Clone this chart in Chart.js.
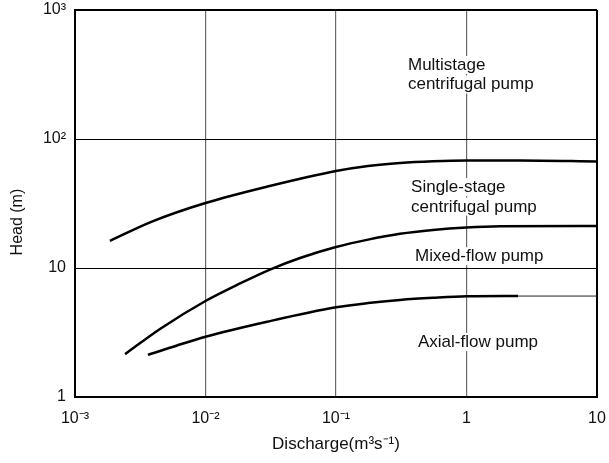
<!DOCTYPE html>
<html>
<head>
<meta charset="utf-8">
<script src="https://cdn.jsdelivr.net/npm/chart.js@4.4.1/dist/chart.umd.min.js"></script>
<style>
  html, body { margin: 0; padding: 0; background: #fff; }
  #wrap { width: 609px; height: 463px; position: relative; }
</style>
</head>
<body>
<div id="wrap"><canvas id="c" width="609" height="463"></canvas></div>
<script>
// ---- data ----
const xTickValues = [0.001, 0.01, 0.1, 1, 10];
const xTickLabels = ['10\u207B\u00B3', '10\u207B\u00B2', '10\u207B\u00B9', '1', '10'];
const yTickValues = [1, 10, 100, 1000];
const yTickLabels = ['1', '10', '10\u00B2', '10\u00B3'];

// boundary: multistage / single-stage centrifugal
const upperX = [0.00185, 0.0038, 0.01, 0.031, 0.1, 0.176, 0.309, 0.553, 1, 2.57, 10];
const upperY = [16.2, 22.7, 31.9, 43.2, 56.5, 61.8, 65.2, 67.2, 68.1, 68.1, 66.9];
// boundary: single-stage / mixed-flow
const middleX = [0.00242, 0.00448, 0.01, 0.0184, 0.0312, 0.053, 0.1, 0.176, 0.309, 0.553, 1, 1.81, 10];
const middleY = [2.15, 3.37, 5.55, 7.59, 9.73, 11.96, 14.55, 16.6, 18.4, 19.7, 20.6, 21.06, 21.2];
// boundary: mixed-flow / axial-flow
const lowerX = [0.00362, 0.00605, 0.01, 0.0296, 0.1, 0.176, 0.309, 0.553, 1, 2.48];
const lowerY = [2.12, 2.51, 2.93, 3.83, 4.96, 5.35, 5.65, 5.87, 6.03, 6.06];
// thin divider line on the right
const dividerX = [1, 10];
const dividerY = [6.06, 6.06];

// region labels (anchor = first line baseline, data coordinates)
const regionLabels = [
  { lines: ['Multistage', 'centrifugal pump'], x: 0.356, y: 343 },
  { lines: ['Single-stage', 'centrifugal pump'], x: 0.376, y: 38.8 },
  { lines: ['Mixed-flow pump'], x: 0.403, y: 11.3 },
  { lines: ['Axial-flow pump'], x: 0.425, y: 2.44 }
];

const FONT = '"Liberation Sans", Arial, Helvetica, sans-serif';
const pts = (xs, ys) => xs.map((x, i) => ({ x: x, y: ys[i] }));
const isLogEq = (a, b) => Math.abs(Math.log10(a) - Math.log10(b)) < 1e-6;

const labelPlugin = {
  id: 'regionLabels',
  afterDatasetsDraw(chart) {
    const ctx = chart.ctx;
    const xs = chart.scales.x, ys = chart.scales.y;
    ctx.save();
    ctx.font = '17px ' + FONT;
    ctx.textAlign = 'left';
    ctx.textBaseline = 'alphabetic';
    regionLabels.forEach(lab => {
      const px = xs.getPixelForValue(lab.x);
      const py = ys.getPixelForValue(lab.y);
      lab.lines.forEach((t, i) => {
        const w = ctx.measureText(t).width;
        const by = py + i * 19.5;
        ctx.fillStyle = '#fff';
        ctx.fillRect(px - 2, by - 14, w + 4, 18);
      });
      lab.lines.forEach((t, i) => {
        ctx.fillStyle = '#111';
        ctx.fillText(t, px, py + i * 19.5);
      });
    });
    ctx.restore();
  },
  afterDraw(chart) {
    const ctx = chart.ctx;
    const a = chart.chartArea;
    ctx.save();
    ctx.font = '16px ' + FONT;
    ctx.fillStyle = '#111';
    ctx.textAlign = 'center';
    ctx.textBaseline = 'middle';
    ctx.translate(18, a.top + (a.bottom - a.top) * 0.548);
    ctx.rotate(-Math.PI / 2);
    ctx.fillText('Head (m)', 0, 0);
    ctx.restore();
  }
};

const lineStyle = {
  borderColor: '#000',
  borderWidth: 2.5,
  pointRadius: 0,
  fill: false,
  cubicInterpolationMode: 'monotone'
};

new Chart(document.getElementById('c'), {
  type: 'line',
  data: {
    datasets: [
      Object.assign({ label: 'Multistage / single-stage', data: pts(upperX, upperY) }, lineStyle),
      Object.assign({ label: 'Single-stage / mixed-flow', data: pts(middleX, middleY) }, lineStyle),
      Object.assign({ label: 'Mixed-flow / axial-flow', data: pts(lowerX, lowerY) }, lineStyle),
      { label: 'divider', data: pts(dividerX, dividerY), borderColor: '#222', borderWidth: 1, pointRadius: 0, fill: false }
    ]
  },
  options: {
    responsive: false,
    animation: false,
    layout: { padding: { top: 10, right: 12, left: 0, bottom: 0 } },
    plugins: { legend: { display: false }, tooltip: { enabled: false } },
    scales: {
      x: {
        type: 'logarithmic',
        min: 0.001, max: 10,
        afterBuildTicks: s => { s.ticks = xTickValues.map(v => ({ value: v })); },
        afterFit: s => { s.height = 66; s.paddingLeft = 0; s.paddingRight = 0; },
        ticks: {
          autoSkip: false, maxRotation: 0, padding: 12,
          color: '#111', font: { family: FONT, size: 16 },
          callback: v => { const i = xTickValues.findIndex(t => isLogEq(t, v)); return i >= 0 ? xTickLabels[i] : ''; }
        },
        grid: {
          drawTicks: false,
          color: c => (c.tick && (isLogEq(c.tick.value, 0.001) || isLogEq(c.tick.value, 10))) ? '#000' : '#6a6a6a',
          lineWidth: c => (c.tick && (isLogEq(c.tick.value, 0.001) || isLogEq(c.tick.value, 10))) ? 2 : 1.2
        },
        border: { display: true, color: '#000', width: 2 },
        title: { display: true, text: 'Discharge(m\u00B3s\u207B\u00B9)', color: '#111', font: { family: FONT, size: 17 }, padding: { top: 0, bottom: 8 } }
      },
      y: {
        type: 'logarithmic',
        min: 1, max: 1000,
        afterBuildTicks: s => { s.ticks = yTickValues.map(v => ({ value: v })); },
        afterFit: s => { s.width = 75; s.paddingTop = 0; s.paddingBottom = 0; },
        ticks: {
          autoSkip: false, padding: 9,
          color: '#111', font: { family: FONT, size: 16 },
          callback: v => { const i = yTickValues.findIndex(t => isLogEq(t, v)); return i >= 0 ? yTickLabels[i] : ''; }
        },
        grid: {
          drawTicks: false,
          color: '#000',
          lineWidth: c => (c.tick && (isLogEq(c.tick.value, 1) || isLogEq(c.tick.value, 1000))) ? 2 : 1
        },
        border: { display: true, color: '#000', width: 2 }
      }
    }
  },
  plugins: [labelPlugin]
});
</script>
</body>
</html>
